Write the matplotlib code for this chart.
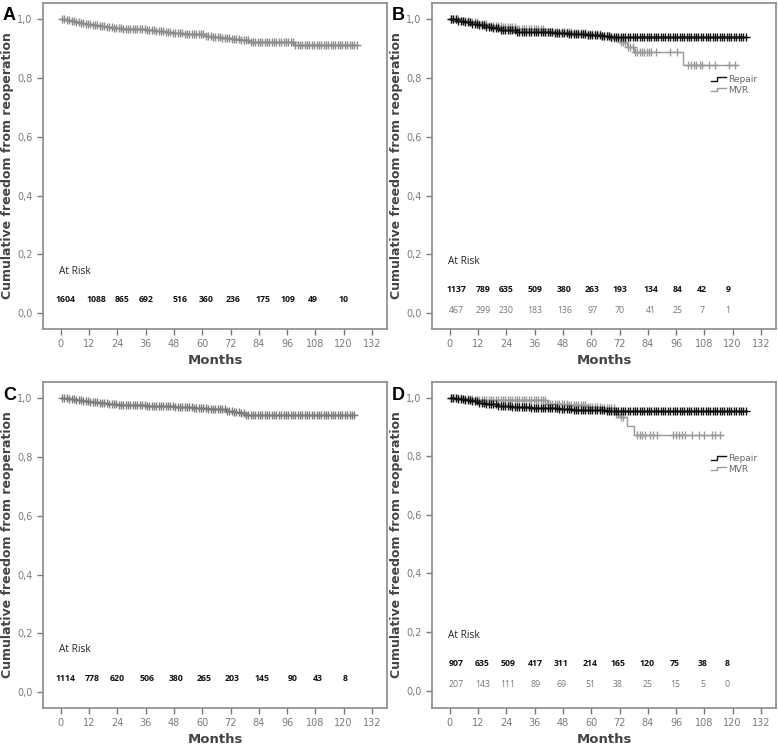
import matplotlib
matplotlib.use("Agg")
import matplotlib.pyplot as plt
from matplotlib.legend_handler import HandlerBase
from matplotlib.lines import Line2D

# ---- data ----
month_ticks = [0, 12, 24, 36, 48, 60, 72, 84, 96, 108, 120, 132]
y_ticks = [0.0, 0.2, 0.4, 0.6, 0.8, 1.0]
y_tick_labels = ['0,0', '0,2', '0,4', '0,6', '0,8', '1,0']

# panel A: all patients
a_t = [0, 2, 4, 6, 8, 10, 13, 16, 19, 22, 26, 30, 36, 40, 44, 47, 52, 58, 61, 64, 68, 72, 76, 80, 99]
a_s = [1.0, 0.997, 0.994, 0.99, 0.987, 0.984, 0.98, 0.977, 0.973, 0.97, 0.967, 0.965, 0.963, 0.961,
       0.955, 0.952, 0.95, 0.948, 0.944, 0.94, 0.936, 0.932, 0.928, 0.924, 0.911]
a_end = 125.5

# panel B: repair vs MVR
b_rep_t = [0, 3, 6, 9, 12, 15, 18, 21, 28, 36, 44, 50, 58, 64, 68]
b_rep_s = [1.0, 0.995, 0.99, 0.985, 0.98, 0.975, 0.97, 0.962, 0.958, 0.955, 0.952, 0.95, 0.946, 0.942, 0.938]
b_rep_end = 125.5
b_mvr_t = [0, 4, 8, 12, 16, 22, 28, 34, 40, 46, 52, 58, 64, 68, 72, 75, 78, 99]
b_mvr_s = [1.0, 0.995, 0.99, 0.985, 0.978, 0.972, 0.968, 0.965, 0.958, 0.955, 0.952, 0.948, 0.944,
           0.935, 0.924, 0.907, 0.887, 0.843]
b_mvr_end = 122
b_mvr_late_censor = [80.5, 81.5, 82.5, 83.5, 84.5, 85.5, 87.5, 93.5, 96.5, 101, 102.5, 103.5, 104.5,
                     106, 107, 110, 112.5, 118.5, 121.2]

# panel C
c_t = [0, 3, 6, 9, 12, 16, 20, 24, 36, 44, 48, 56, 62, 66, 70, 73, 76, 78]
c_s = [1.0, 0.996, 0.993, 0.99, 0.986, 0.982, 0.979, 0.976, 0.974, 0.972, 0.97, 0.967, 0.964, 0.962,
       0.958, 0.954, 0.948, 0.943]
c_end = 124.8

# panel D: repair vs MVR
d_rep_t = [0, 3, 6, 9, 12, 15, 20, 26, 34, 40, 46, 52, 60, 66, 71]
d_rep_s = [1.0, 0.996, 0.992, 0.988, 0.983, 0.978, 0.972, 0.969, 0.966, 0.963, 0.961, 0.959, 0.957,
           0.955, 0.953]
d_rep_end = 125.5
d_mvr_t = [0, 5, 10, 20, 41, 50, 58, 64, 70, 72, 75, 78]
d_mvr_s = [1.0, 0.996, 0.993, 0.99, 0.977, 0.973, 0.969, 0.964, 0.945, 0.932, 0.904, 0.873]
d_mvr_end = 115
d_mvr_late_censor = [72.5, 73.5, 79.4, 80.5, 81.5, 82.8, 84.9, 86, 87.9, 94.8, 96, 97.2, 98.5, 99.8,
                     102.7, 105.7, 107.8, 111.2, 112.5, 114.6]

# censoring times (dense "+" marks)
censor_dense = [0.5, 1.5, 2.5, 3.5, 4.5, 5.5, 6.5, 7.5, 8.5, 9.5, 10.5, 11.5, 12.5, 13.5, 14.5, 15.5,
                16.5, 17.5, 18.5, 19.5, 20.5, 21.5, 22.5, 23.5, 24.5, 25.5, 26.5, 27.5, 28.5, 29.5,
                30.5, 31.5, 32.5, 33.5, 34.5, 35.5, 36.5, 37.5, 38.5, 39.5, 40.5, 41.5, 42.5, 43.5,
                44.5, 45.5, 46.5, 47.5, 48.5, 49.5, 50.5, 51.5, 52.5, 53.5, 54.5, 55.5, 56.5, 57.5,
                58.5, 59.5, 60.5, 61.5, 62.5, 63.5, 64.5, 65.5, 66.5, 67.5, 68.5, 69.5, 70.5, 71.5,
                72.5, 73.5, 74.5, 75.5, 76.5, 77.5, 78.5, 79.5, 80.5, 81.5, 82.5, 83.5, 84.5, 85.5,
                86.5, 87.5, 88.5, 89.5, 90.5, 91.5, 92.5, 93.5, 94.5, 95.5, 96.5, 97.5, 98.5, 99.5,
                100.5, 101.5, 102.5, 103.5, 104.5, 105.5, 106.5, 107.5, 108.5, 109.5, 110.5, 111.5,
                112.5, 113.5, 114.5, 115.5, 116.5, 117.5, 118.5, 119.5, 120.5, 121.5, 122.5, 123.5,
                124.5, 125.5]

# numbers at risk
a_risk = ['1604', '1088', '865', '692', '516', '360', '236', '175', '109', '49', '10']
b_risk_rep = ['1137', '789', '635', '509', '380', '263', '193', '134', '84', '42', '9']
b_risk_mvr = ['467', '299', '230', '183', '136', '97', '70', '41', '25', '7', '1']
c_risk = ['1114', '778', '620', '506', '380', '265', '203', '145', '90', '43', '8']
d_risk_rep = ['907', '635', '509', '417', '311', '214', '165', '120', '75', '38', '8']
d_risk_mvr = ['207', '143', '111', '89', '69', '51', '38', '25', '15', '5', '0']

# label x positions (months) for the at-risk rows
a_risk_x = [2, 15, 26, 36, 50.5, 61.5, 73, 86, 96.5, 107, 120]
b_risk_x = [2.8, 14.3, 23.8, 36, 48.5, 60.5, 72, 85.3, 96.8, 107, 118]
c_risk_x = [2, 13.1, 23.8, 36.4, 49, 60.9, 72.7, 85.2, 98.5, 108.9, 120.5]
d_risk_x = [2.8, 13.8, 24.5, 36.4, 47.2, 59.5, 71.4, 83.8, 95.5, 107.3, 117.8]

DARK = '#111111'
LIGHT = '#9a9a9a'
SPINE = '#8a8a8a'
TICKC = '#7a7a7a'


def km_curve(ax, t, s, end, censor, color, late=None):
    xs = list(t) + [end]
    ys = list(s) + [s[-1]]
    ax.step(xs, ys, where='post', color=color, lw=1.0, zorder=3)
    cens = [c for c in censor if c <= end]
    if late is not None:
        cens = [c for c in cens if c < late[0]] + list(late)
    cy = []
    for c in cens:
        v = s[0]
        for ti, si in zip(t, s):
            if ti <= c:
                v = si
        cy.append(v)
    ax.plot(cens, cy, linestyle='none', marker='+', ms=5.5, mew=1.0, color=color, zorder=4)


class StepHandler(HandlerBase):
    def create_artists(self, legend, orig_handle, xdescent, ydescent, width, height, fontsize, trans):
        w = width
        h = height
        xs = [0, 0.35 * w, 0.35 * w, w]
        ys = [0.2 * h, 0.2 * h, 0.8 * h, 0.8 * h]
        ln = Line2D(xs, ys, color=orig_handle.get_color(), lw=1.0, transform=trans)
        return [ln]


def style_axes(ax, ylim):
    ax.set_xlim(-7.6, 138.4)
    ax.set_ylim(*ylim)
    ax.set_xticks(month_ticks)
    ax.set_xticklabels([str(m) for m in month_ticks])
    ax.set_yticks(y_ticks)
    ax.set_yticklabels(y_tick_labels)
    for sp in ax.spines.values():
        sp.set_color(SPINE)
        sp.set_linewidth(1.2)
    ax.tick_params(axis='both', direction='out', length=4, width=1, color=TICKC,
                   labelcolor=TICKC, labelsize=7)
    ax.set_xlabel('Months', fontsize=9.5, fontweight='bold', color='#444444', labelpad=3)
    ax.set_ylabel('Cumulative freedom from reoperation', fontsize=9, fontweight='bold',
                  color='#444444', labelpad=2)


def risk_row(ax, xs, labels, y, color, weight):
    for x, lab in zip(xs, labels):
        ax.text(x, y, lab, ha='center', va='center', fontsize=6.3, color=color,
                fontweight=weight, family='Open Sans')


fig = plt.figure(figsize=(7.78, 7.46), dpi=100)
axA = fig.add_axes([43 / 778, 1 - 329 / 746, 344 / 778, 326 / 746])
axB = fig.add_axes([432 / 778, 1 - 329 / 746, 344 / 778, 326 / 746])
axC = fig.add_axes([43 / 778, 1 - 708 / 746, 344 / 778, 326 / 746])
axD = fig.add_axes([432 / 778, 1 - 708 / 746, 344 / 778, 326 / 746])

# A
km_curve(axA, a_t, a_s, a_end, censor_dense, '#8c8c8c')
style_axes(axA, (-0.054, 1.055))
axA.text(-1, 0.14, 'At Risk', fontsize=7.3, family='Open Sans', color='#222222', va='center')
risk_row(axA, a_risk_x, a_risk, 0.047, DARK, 'bold')

# B
km_curve(axB, b_mvr_t, b_mvr_s, b_mvr_end, censor_dense, LIGHT, late=b_mvr_late_censor)
km_curve(axB, b_rep_t, b_rep_s, b_rep_end, censor_dense, DARK)
style_axes(axB, (-0.054, 1.055))
axB.text(-1, 0.174, 'At Risk', fontsize=7.3, family='Open Sans', color='#222222', va='center')
risk_row(axB, b_risk_x, b_risk_rep, 0.08, DARK, 'bold')
risk_row(axB, b_risk_x, b_risk_mvr, 0.008, '#777777', 'normal')

# C
km_curve(axC, c_t, c_s, c_end, censor_dense, '#7c7c7c')
style_axes(axC, (-0.054, 1.055))
axC.text(-1, 0.145, 'At Risk', fontsize=7.3, family='Open Sans', color='#222222', va='center')
risk_row(axC, c_risk_x, c_risk, 0.048, DARK, 'bold')

# D
km_curve(axD, d_mvr_t, d_mvr_s, d_mvr_end, censor_dense, LIGHT, late=d_mvr_late_censor)
km_curve(axD, d_rep_t, d_rep_s, d_rep_end, censor_dense, DARK)
style_axes(axD, (-0.059, 1.053))
axD.text(-1, 0.188, 'At Risk', fontsize=7.3, family='Open Sans', color='#222222', va='center')
risk_row(axD, d_risk_x, d_risk_rep, 0.092, DARK, 'bold')
risk_row(axD, d_risk_x, d_risk_mvr, 0.02, '#777777', 'normal')

for ax in (axB, axD):
    h_rep = Line2D([], [], color=DARK)
    h_mvr = Line2D([], [], color=LIGHT)
    leg = ax.legend([h_rep, h_mvr], ['Repair', 'MVR'], handler_map={Line2D: StepHandler()},
                    loc='upper right', bbox_to_anchor=(0.96, 0.795), frameon=False,
                    fontsize=6.5, handlelength=1.6, handletextpad=0.2, labelspacing=0.15,
                    borderpad=0.1)
    for txt in leg.get_texts():
        txt.set_color('#666666')

for lab, x, y in [('A', 3, 20), ('B', 392, 20), ('C', 3, 400), ('D', 392, 400)]:
    fig.text(x / 778, 1 - y / 746, lab, fontsize=13, fontweight='bold', family='Liberation Sans',
             color='black', va='baseline')

fig.savefig('out.png', dpi=100)
